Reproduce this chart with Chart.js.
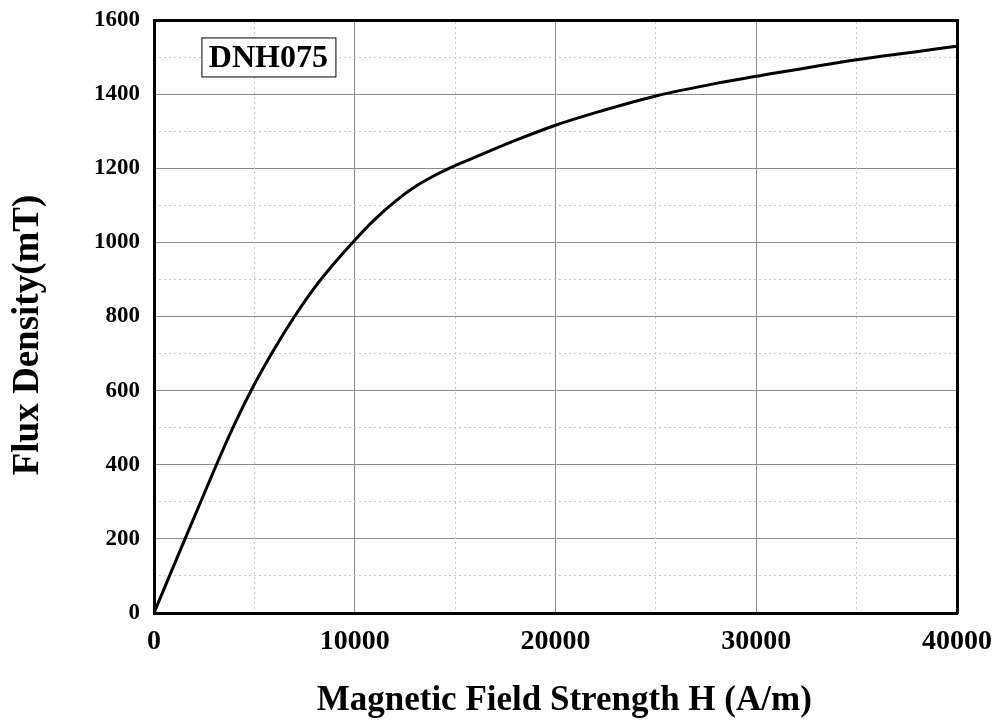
<!DOCTYPE html>
<html>
<head>
<meta charset="utf-8">
<script src="https://cdn.jsdelivr.net/npm/chart.js@4/dist/chart.umd.min.js"></script>
<style>
  html, body { margin: 0; padding: 0; background: #fff; }
  #bhChart { display: block; }
</style>
</head>
<body>
<canvas id="bhChart" width="995" height="724"></canvas>
<script>
// B-H curve data
const fieldH = [0, 1000, 2000, 3000, 4000, 5000, 6000, 7000, 8000, 9000, 10000, 11000, 12000, 13000, 14000, 15000, 16000, 18000, 20000, 22000, 25000, 28000, 30000, 35000, 40000];
const fluxB = [0, 130, 258, 386, 508, 617, 713, 800, 878, 945, 1006, 1062, 1110, 1150, 1181, 1207, 1230, 1275, 1316, 1350, 1395, 1429, 1448, 1493, 1529];

const xTicks = [0, 10000, 20000, 30000, 40000];
const yTicks = [0, 200, 400, 600, 800, 1000, 1200, 1400, 1600];

const materialLabel = "DNH075";
const labelH = 5700;
const labelB = 1499;

const FONT = "'Liberation Serif', 'Times New Roman', serif";

const points = fieldH.map((h, i) => ({ x: h, y: fluxB[i] }));

// text box with the material name
const labelBox = {
    id: "labelBox",
    afterDraw(chart) {
        const ctx = chart.ctx;
        const cx = chart.scales.x.getPixelForValue(labelH);
        const cy = chart.scales.y.getPixelForValue(labelB);
        ctx.save();
        ctx.font = "bold 32px " + FONT;
        ctx.textAlign = "center";
        ctx.textBaseline = "middle";
        ctx.fillStyle = "#fff";
        ctx.fillRect(cx - 67, cy - 20, 134, 39);
        ctx.strokeStyle = "#000";
        ctx.lineWidth = 1;
        ctx.strokeRect(cx - 67 + 0.5, cy - 20 + 0.5, 134, 39);
        ctx.fillStyle = "#000";
        ctx.fillText(materialLabel, cx, cy + 1);
        ctx.restore();
    }
};

new Chart(document.getElementById("bhChart"), {
    type: "line",
    data: {
        datasets: [{
            data: points,
            borderColor: "#000",
            borderWidth: 3,
            pointRadius: 0,
            fill: false,
            cubicInterpolationMode: "monotone"
        }]
    },
    options: {
        responsive: false,
        animation: false,
        layout: { padding: 0 },
        plugins: {
            legend: { display: false },
            tooltip: { enabled: false }
        },
        scales: {
            x: {
                type: "linear",
                position: "bottom",
                min: 0,
                max: 40000,
                afterBuildTicks: s => { s.ticks = xTicks.map(v => ({ value: v })); },
                afterFit: s => { s.height = 111; s.paddingLeft = 0; s.paddingRight = 0; },
                ticks: {
                    color: "#000",
                    font: { family: FONT, size: 28, weight: "bold" },
                    padding: 12,
                    maxRotation: 0,
                    callback: v => String(v)
                },
                grid: { color: "#8c8c8c", lineWidth: 1, drawTicks: false },
                border: { color: "#000", width: 3, z: 1 },
                title: {
                    display: true,
                    text: "\u00a0\u00a0Magnetic Field Strength H (A/m)",
                    color: "#000",
                    font: { family: FONT, size: 35, weight: "bold" },
                    padding: { top: 0, bottom: 2 }
                }
            },
            y: {
                type: "linear",
                position: "left",
                min: 0,
                max: 1600,
                afterBuildTicks: s => { s.ticks = yTicks.map(v => ({ value: v })); },
                afterFit: s => { s.width = 154; s.paddingTop = 0; s.paddingBottom = 0; },
                ticks: {
                    color: "#000",
                    font: { family: FONT, size: 23, weight: "bold" },
                    padding: 14,
                    callback: v => String(v)
                },
                grid: { color: "#8c8c8c", lineWidth: 1, drawTicks: false },
                border: { color: "#000", width: 3, z: 1 },
                title: {
                    display: true,
                    text: "Flux Density(mT)\u00a0\u00a0\u00a0\u00a0",
                    color: "#000",
                    font: { family: FONT, size: 37, weight: "bold" },
                    padding: { top: 6, bottom: 0 }
                }
            },
            // minor dotted grid + top frame
            x2: {
                type: "linear",
                position: "top",
                min: 0,
                max: 40000,
                ticks: { display: false, stepSize: 5000 },
                afterFit: s => { s.height = 20; },
                grid: {
                    color: c => (c.tick && c.tick.value % 10000 === 0) ? "rgba(0,0,0,0)" : "#c8c8c8",
                    lineWidth: 1,
                    drawTicks: false
                },
                border: { color: "#000", width: 3, z: 1, dash: [2, 3] }
            },
            // minor dotted grid + right frame
            y2: {
                type: "linear",
                position: "right",
                min: 0,
                max: 1600,
                ticks: { display: false, stepSize: 100 },
                afterFit: s => { s.width = 38; },
                grid: {
                    color: c => (c.tick && c.tick.value % 200 === 0) ? "rgba(0,0,0,0)" : "#c8c8c8",
                    lineWidth: 1,
                    drawTicks: false
                },
                border: { color: "#000", width: 3, z: 1, dash: [2, 3] }
            }
        }
    },
    plugins: [labelBox]
});
</script>
</body>
</html>
